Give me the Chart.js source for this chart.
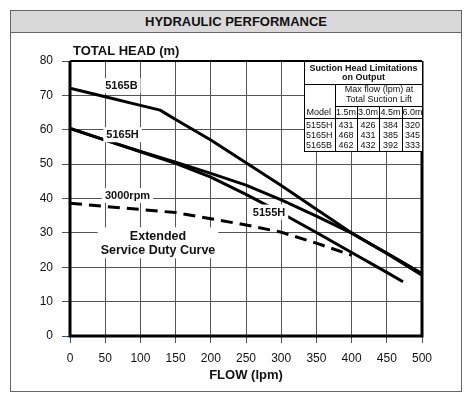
<!DOCTYPE html>
<html><head><meta charset="utf-8">
<script src="https://cdn.jsdelivr.net/npm/chart.js@4"></script>
<style>
html,body{margin:0;padding:0;background:#fff;}
#wrap{position:relative;width:474px;height:404px;overflow:hidden;}
#frame{position:absolute;left:10px;top:10px;width:450px;height:380px;border:1px solid #666;}
#hdr{position:absolute;left:0;top:0;width:450px;height:21px;background:#d9d9d9;border-bottom:1px solid #666;font:bold 13px "Liberation Sans",Arial,sans-serif;text-align:center;line-height:21px;color:#111;}
canvas{position:absolute;left:0;top:0;}
</style></head>
<body>
<div id="wrap">
  <div id="frame"><div id="hdr">HYDRAULIC PERFORMANCE</div></div>
  <canvas id="c" width="474" height="404"></canvas>
</div>
<script>
// ---- data (flow in lpm, head in m) ----
const flow5165B = [0, 50, 100, 128, 150, 200, 250, 300, 350, 400, 450, 500];
const head5165B = [72.1, 69.6, 67.1, 65.7, 63.0, 57.0, 50.4, 43.8, 36.9, 30.0, 24.0, 17.7];
const flow5165H = [0, 50, 100, 150, 200, 250, 300, 350, 400, 450, 500];
const head5165H = [60.4, 57.0, 53.7, 50.6, 47.3, 43.9, 39.6, 34.9, 29.9, 24.1, 18.2];
const flow5155H = [0, 50, 100, 150, 200, 250, 300, 350, 400, 450, 473];
const head5155H = [60.4, 57.0, 53.6, 50.2, 46.2, 41.2, 35.8, 30.1, 24.3, 18.5, 15.8];
const flowRpm = [0, 50, 100, 150, 200, 250, 300, 350, 400];
const headRpm = [38.6, 37.7, 36.8, 35.9, 34.1, 32.3, 30.2, 27.0, 23.5];
const xTicks = [0, 50, 100, 150, 200, 250, 300, 350, 400, 450, 500];
const yTicks = [0, 10, 20, 30, 40, 50, 60, 70, 80];
// suction table
const tableModels = ['5155H', '5165H', '5165B'];
const tableLifts = ['1.5m', '3.0m', '4.5m', '6.0m'];
const tableRow5155H = [431, 426, 384, 320];
const tableRow5165H = [468, 431, 385, 345];
const tableRow5165B = [462, 432, 392, 333];
const tableRows = [tableRow5155H, tableRow5165H, tableRow5165B];

const FAM = '"Liberation Sans", Arial, sans-serif';
function pts(xs, ys){ return xs.map((x,i)=>({x:x, y:ys[i]})); }
function ds(label, xs, ys, dash){
  return {label:label, data:pts(xs, ys), borderColor:'#000', borderWidth:3, borderDash:dash,
          pointRadius:0, tension:0, fill:false, borderCapStyle:'butt', borderJoinStyle:'round'};
}

const labels = [
  {lines:['5165B'], x:73, y:72.7, font:'bold 11px '+FAM},
  {lines:['5165H'], x:74.6, y:58.4, font:'bold 11px '+FAM},
  {lines:['3000rpm'], x:81.7, y:40.75, font:'bold 11px '+FAM},
  {lines:['Extended','Service Duty Curve'], x:125, y:29.0, font:'bold 12.5px '+FAM, lh:14},
  {lines:['5155H'], x:282.7, y:35.9, font:'bold 11px '+FAM}
];

const deco = {
  id:'deco',
  beforeDatasetsDraw(chart){
    const c = chart.ctx, a = chart.chartArea;
    c.save();
    c.strokeStyle = '#000';
    c.lineWidth = 3;
    c.beginPath();
    c.moveTo(a.left, a.top); c.lineTo(a.left, a.bottom); c.lineTo(a.right, a.bottom); c.lineTo(a.right, a.top);
    c.stroke();
    c.lineWidth = 2;
    c.beginPath(); c.moveTo(a.left, a.top); c.lineTo(a.right, a.top); c.stroke();
    c.restore();
  },
  afterDatasetsDraw(chart){
    const c = chart.ctx, a = chart.chartArea, sx = chart.scales.x, sy = chart.scales.y;
    c.save();
    c.textAlign = 'center'; c.textBaseline = 'middle';
    labels.forEach(l => {
      c.font = l.font;
      const px = sx.getPixelForValue(l.x), py = sy.getPixelForValue(l.y);
      const lh = l.lh || 12;
      let w = 0; l.lines.forEach(t => { w = Math.max(w, c.measureText(t).width); });
      const h = lh * l.lines.length;
      const top = py - (l.lines.length === 1 ? lh/2 : lh/2);
      c.fillStyle = '#fff';
      c.fillRect(px - w/2 - 3, top - 2, w + 6, h + 3);
      c.fillStyle = '#111';
      l.lines.forEach((t, i) => c.fillText(t, px, py + i*lh));
    });
    // axis titles
    c.font = 'bold 13px ' + FAM;
    c.textAlign = 'left';
    c.fillText('TOTAL HEAD (m)', a.left + 3, a.top - 10);
    c.textAlign = 'center';
    c.fillText('FLOW (lpm)', (a.left + a.right)/2, a.bottom + 39);

    // suction table
    const L = 304, R = a.right + 1, T = a.top, B = a.top + 91;
    const cols = [L, 335, 357, 379, 402, R];
    const yH1 = T + 23, yH2 = T + 45, yH3 = T + 57;
    c.fillStyle = '#fff';
    c.fillRect(L, T, R - L, B - T);
    c.strokeStyle = '#000'; c.lineWidth = 1;
    c.strokeRect(L + 0.5, T + 0.5, R - L - 1, B - T - 1);
    c.beginPath();
    c.moveTo(L, yH1 + 0.5); c.lineTo(R, yH1 + 0.5);
    c.moveTo(cols[1], yH2 + 0.5); c.lineTo(R, yH2 + 0.5);
    c.moveTo(L, yH3 + 0.5); c.lineTo(R, yH3 + 0.5);
    c.moveTo(cols[1] + 0.5, yH1); c.lineTo(cols[1] + 0.5, B);
    for (let k = 2; k <= 4; k++){ c.moveTo(cols[k] + 0.5, yH2); c.lineTo(cols[k] + 0.5, B); }
    c.stroke();
    c.fillStyle = '#111';
    c.textBaseline = 'middle';
    c.textAlign = 'center';
    c.font = 'bold 9px ' + FAM;
    c.fillText('Suction Head Limitations', (L + R)/2, T + 7.5);
    c.fillText('on Output', (L + R)/2, T + 17);
    c.font = '9px ' + FAM;
    c.fillText('Max flow (lpm) at', (cols[1] + R)/2, T + 28.5);
    c.fillText('Total Suction Lift', (cols[1] + R)/2, T + 39);
    c.textAlign = 'left';
    c.fillText('Model', L + 2.5, T + 51.5);
    c.textAlign = 'center';
    tableLifts.forEach((t, k) => c.fillText(t, (cols[k+1] + cols[k+2])/2, T + 51.5));
    tableModels.forEach((m, r) => {
      const yy = T + 65 + r*10;
      c.textAlign = 'left';
      c.fillText(m, L + 2, yy);
      c.textAlign = 'center';
      tableRows[r].forEach((v, k) => c.fillText(String(v), (cols[k+1] + cols[k+2])/2, yy));
    });
    c.restore();
  }
};

const tickCol = (cx) => (cx.tick && cx.tick.value === 0) ? '#2a4aa8' : '#555';

new Chart(document.getElementById('c'), {
  type:'line',
  data:{datasets:[
    ds('5165B', flow5165B, head5165B, []),
    ds('5165H', flow5165H, head5165H, []),
    ds('5155H', flow5155H, head5155H, []),
    ds('3000rpm', flowRpm, headRpm, [12, 7])
  ]},
  options:{
    responsive:false, animation:false, devicePixelRatio:1,
    layout:{padding:{left:0, top:61, right:52, bottom:0}},
    plugins:{legend:{display:false}, tooltip:{enabled:false}, title:{display:false}},
    scales:{
      x:{type:'linear', min:0, max:500,
         afterBuildTicks(s){ s.ticks = xTicks.map(v => ({value:v})); },
         ticks:{font:{family:FAM, size:12}, color:'#111', padding:8, maxRotation:0, autoSkip:false},
         grid:{color:'#555', lineWidth:1, tickLength:7, tickColor:tickCol, tickWidth:1},
         border:{display:false},
         afterFit(s){ s.height = 68; }},
      y:{type:'linear', min:0, max:80,
         afterBuildTicks(s){ s.ticks = yTicks.map(v => ({value:v})); },
         ticks:{font:{family:FAM, size:12}, color:'#111', padding:9},
         grid:{color:'#555', lineWidth:1, tickLength:8, tickColor:tickCol, tickWidth:1},
         border:{display:false},
         afterFit(s){ s.width = 70; }}
    }
  },
  plugins:[deco]
});
</script>
</body></html>
